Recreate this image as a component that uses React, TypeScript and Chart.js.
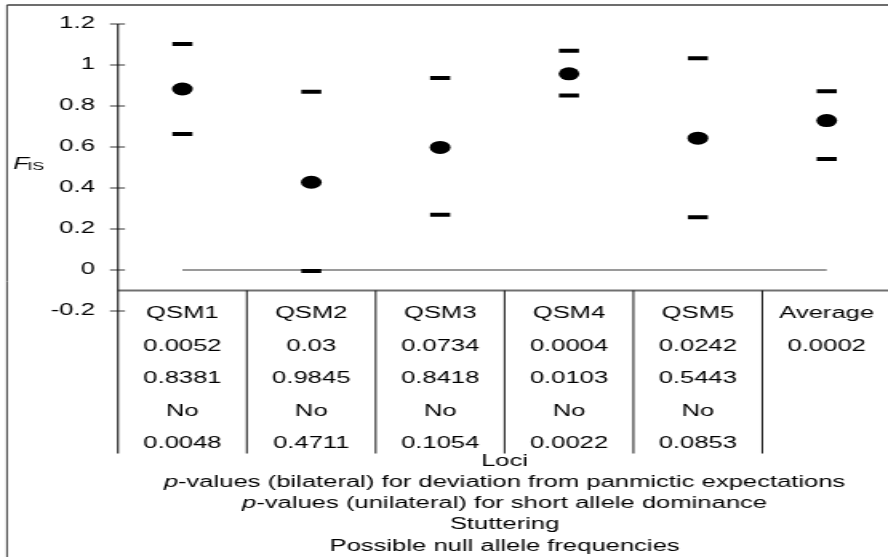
import React, { useEffect, useRef } from "react";
import { Chart, registerables } from "chart.js";

Chart.register(...registerables);

// ---------- data ----------
const loci = ["QSM1", "QSM2", "QSM3", "QSM4", "QSM5", "Average"];
const fisValues = [0.883, 0.428, 0.598, 0.957, 0.643, 0.729];
const upperCI = [1.103, 0.87, 0.937, 1.07, 1.033, 0.872];
const lowerCI = [0.664, -0.005, 0.27, 0.851, 0.257, 0.541];
const zeroLine = [0, 0, 0, 0, 0, 0];
const pBilateral = ["0.0052", "0.03", "0.0734", "0.0004", "0.0242", "0.0002"];
const pUnilateral = ["0.8381", "0.9845", "0.8418", "0.0103", "0.5443", ""];
const stuttering = ["No", "No", "No", "No", "No", ""];
const nullAlleles = ["0.0048", "0.4711", "0.1054", "0.0022", "0.0853", ""];
const yTickValues = [-0.2, 0, 0.2, 0.4, 0.6, 0.8, 1, 1.2];
const yTickLabels = ["-0.2", "0", "0.2", "0.4", "0.6", "0.8", "1", "1.2"];
const axisCrossValue = -0.1;
const xTitleLines: [string, string][] = [
  ["", "Loci"],
  ["p", "-values (bilateral) for deviation from panmictic expectations"],
  ["p", "-values (unilateral) for short allele dominance"],
  ["", "Stuttering"],
  ["", "Possible null allele frequencies"],
];

// ---------- layout ----------
const SX = 1.6; // horizontal stretch of the picture
const CW = 557;
const CH = 557;
const FONT = '"Liberation Sans", Arial, sans-serif';

const tablePlugin = {
  id: "tablePlugin",
  afterDraw(chart: any) {
    const ctx = chart.ctx as CanvasRenderingContext2D;
    const xs = chart.scales.x;
    const ys = chart.scales.y;
    const ca = chart.chartArea;
    const axisY = ys.getPixelForValue(axisCrossValue);
    const tableBottom = axisY + 163;
    ctx.save();

    // frame
    ctx.strokeStyle = "#3c3c3c";
    ctx.lineWidth = 1;
    ctx.beginPath();
    ctx.moveTo(4.4, chart.height + 5);
    ctx.lineTo(4.4, 5);
    ctx.stroke();
    ctx.lineWidth = 1.6;
    ctx.beginPath();
    ctx.moveTo(4.4, 5);
    ctx.lineTo(chart.width + 5, 5);
    ctx.stroke();

    // horizontal axis line
    ctx.strokeStyle = "#707070";
    ctx.lineWidth = 2;
    ctx.beginPath();
    ctx.moveTo(ca.left, axisY);
    ctx.lineTo(ca.right + 2, axisY);
    ctx.stroke();

    // y ticks (crossing)
    ctx.strokeStyle = "#808080";
    ctx.lineWidth = 1.6;
    for (const t of ys.ticks) {
      const py = ys.getPixelForValue(t.value);
      ctx.beginPath();
      ctx.moveTo(ca.left - 5, py);
      ctx.lineTo(ca.left + 4.4, py);
      ctx.stroke();
    }

    // vertical axis line
    ctx.strokeStyle = "#111";
    ctx.lineWidth = 1.1;
    ctx.beginPath();
    ctx.moveTo(ca.left, ca.top);
    ctx.lineTo(ca.left, tableBottom);
    ctx.stroke();

    // table separators
    ctx.lineWidth = 1;
    for (let i = 1; i < loci.length; i++) {
      const sx = (xs.getPixelForValue(i - 1) + xs.getPixelForValue(i)) / 2;
      ctx.beginPath();
      ctx.moveTo(sx, axisY);
      ctx.lineTo(sx, tableBottom);
      ctx.stroke();
    }

    // table text
    ctx.fillStyle = "#000";
    ctx.font = `16px ${FONT}`;
    ctx.textAlign = "center";
    ctx.textBaseline = "alphabetic";
    const rows = [loci, pBilateral, pUnilateral, stuttering, nullAlleles];
    for (let i = 0; i < loci.length; i++) {
      const cx = xs.getPixelForValue(i);
      rows.forEach((row, r) => {
        if (row[i]) ctx.fillText(row[i], cx, axisY + 21.5 + r * 32.6 + 6);
      });
    }

    // x title lines
    const midX = (ca.left + ca.right) / 2;
    ctx.textAlign = "left";
    xTitleLines.forEach(([it, rest], k) => {
      const by = tableBottom + 6 + 6 + k * 21.3;
      ctx.font = `italic 16px ${FONT}`;
      const w1 = it ? ctx.measureText(it).width : 0;
      ctx.font = `16px ${FONT}`;
      const w2 = ctx.measureText(rest).width;
      let sx = midX - (w1 + w2) / 2;
      if (it) {
        ctx.font = `italic 16px ${FONT}`;
        ctx.fillText(it, sx, by);
        sx += w1;
      }
      ctx.font = `16px ${FONT}`;
      ctx.fillText(rest, sx, by);
    });

    // y title F_IS
    ctx.font = `italic 16px ${FONT}`;
    ctx.fillText("F", 8.3, 169);
    ctx.font = `11px ${FONT}`;
    ctx.fillText("IS", 17.3, 170);

    ctx.restore();
  },
};

export default function App() {
  const ref = useRef<HTMLCanvasElement>(null);
  useEffect(() => {
    const chart = new Chart(ref.current as HTMLCanvasElement, {
      type: "line",
      data: {
        labels: loci,
        datasets: [
          {
            label: "FIS",
            data: fisValues,
            showLine: false,
            pointStyle: "circle",
            pointRadius: 6.5,
            pointBackgroundColor: "#000",
            pointBorderColor: "#000",
            pointBorderWidth: 0,
            order: 1,
          },
          {
            label: "upper",
            data: upperCI,
            showLine: false,
            pointStyle: "line",
            pointRadius: 6.25,
            pointBorderColor: "#000",
            pointBorderWidth: 4,
            order: 2,
          },
          {
            label: "lower",
            data: lowerCI,
            showLine: false,
            pointStyle: "line",
            pointRadius: 6.25,
            pointBorderColor: "#000",
            pointBorderWidth: 4,
            order: 3,
          },
          {
            label: "zero",
            data: zeroLine,
            borderColor: "#9a9a9a",
            borderWidth: 2,
            pointRadius: 0,
            order: 10,
          },
        ],
      },
      options: {
        responsive: false,
        animation: false,
        events: [],
        layout: { autoPadding: false, padding: { top: 16.7, left: 0, right: 0, bottom: 0 } },
        plugins: { legend: { display: false }, tooltip: { enabled: false } },
        scales: {
          x: {
            type: "category",
            offset: true,
            grid: { display: false },
            border: { display: false },
            ticks: { display: false },
            afterFit: (s: any) => {
              s.height = 246;
            },
          },
          y: {
            min: -0.2,
            max: 1.2,
            grid: { display: false, drawTicks: false },
            border: { display: false },
            afterBuildTicks: (s: any) => {
              s.ticks = yTickValues.map((v) => ({ value: v }));
            },
            ticks: {
              padding: 14.4,
              color: "#000",
              font: { family: FONT, size: 16 },
              callback: (v: any) => {
                const idx = yTickValues.findIndex((t) => Math.abs(t - Number(v)) < 1e-9);
                return idx >= 0 ? yTickLabels[idx] : "";
              },
            },
            afterFit: (s: any) => {
              s.width = 73.75;
            },
          },
        },
      },
      plugins: [tablePlugin],
    } as any);
    return () => chart.destroy();
  }, []);

  return (
    <div
      style={{
        position: "absolute",
        left: 0,
        top: 0,
        width: 888,
        height: 557,
        overflow: "hidden",
        background: "#fff",
      }}
    >
      <div
        style={{
          width: CW,
          height: CH,
          transform: `scaleX(${SX})`,
          transformOrigin: "0 0",
        }}
      >
        <canvas
          ref={ref}
          width={CW}
          height={CH}
          style={{ width: CW, height: CH, display: "block" }}
        />
      </div>
    </div>
  );
}
